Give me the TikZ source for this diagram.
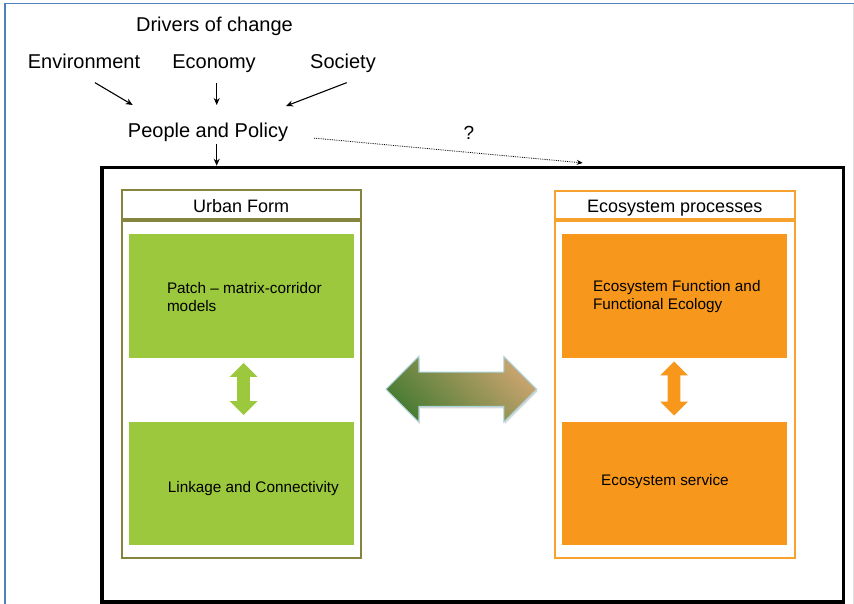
\documentclass[tikz,border=0pt]{standalone}
\usepackage{fontspec}
\setmainfont{Liberation Sans}
\usetikzlibrary{arrows.meta,shapes.arrows,shadows}

\definecolor{olivebox}{HTML}{858540}
\definecolor{greenbox}{HTML}{9BC83C}
\definecolor{orangeline}{HTML}{F7A12F}
\definecolor{orangebox}{HTML}{F7981D}
\definecolor{bigGreen}{HTML}{4A7C34}
\definecolor{bigMid}{HTML}{62893F}
\definecolor{bigTan}{HTML}{C9A46E}
\definecolor{arrowedge}{HTML}{A9D4DC}
\definecolor{pageblue}{HTML}{4F81BD}

\begin{document}
\begin{tikzpicture}[x=1pt,y=-1pt,
    arr/.style={-{Stealth[length=7pt,width=6pt]},line width=1.1pt},
    lbl/.style={inner sep=2pt,font=\fontsize{20}{24}\selectfont},
    head/.style={draw,line width=2pt,fill=white,inner sep=0pt,text height=14.6pt,text depth=0pt,
      font=\fontsize{18}{21}\selectfont},
    body/.style={draw,line width=2pt,fill=white,inner sep=0pt},
    greenrect/.style={fill=greenbox,minimum width=225pt,inner sep=0pt},
    orangerect/.style={fill=orangebox,minimum width=225pt,inner sep=0pt},
    boxtext/.style={inner sep=0pt,align=left,font=\fontsize{15.3}{18}\selectfont},
    updown/.style={double arrow,double arrow head extend=7.5pt,inner xsep=0pt,inner ysep=6.2pt,
      rotate=90}]

\useasboundingbox (0,0) rectangle (854,604);
\fill[white] (0,0) rectangle (854,604);
\draw[pageblue,line width=1.5pt] (5,604) -- (5,3.7) -- (854,3.7);
\draw[black!12,line width=1pt] (853,3.7) -- (853,604);

% drivers
\node[lbl,anchor=base] (drivers) at (214.5,31.7) {Drivers of change};
\node[lbl,anchor=base] (env) at (84,68.3) {Environment};
\node[lbl,anchor=base] (econ) at (214,68.3) {Economy};
\node[lbl,anchor=base] (soc) at (343,68.3) {Society};
\node[lbl,anchor=base] (people) at (208,137.3) {People and Policy};
\node[lbl,anchor=base,font=\fontsize{19}{22}\selectfont] (q) at (469,140) {?};

\coordinate (envTip) at (132.7,105);
\coordinate (econTip) at (216.7,105);
\coordinate (socTip) at (286,106);
\coordinate (qTip) at (582.7,162.9);

% frame
\node[draw,line width=3.5pt,minimum width=741.5pt,minimum height=434.5pt,inner sep=0pt]
  (frame) at (472.75,384.75) {};

\draw[arr] ([shift={(11,12)}]env.south) -- (envTip);
\draw[arr] ([shift={(2.7,8)}]econ.south) -- (econTip);
\draw[arr] ([shift={(3.7,8)}]soc.south) -- (socTip);
\draw[arr] ([xshift=8.7pt]people.south) -- ([xshift=8.7pt]people.south |- frame.north);
\draw[-{Stealth[length=6pt,width=5pt]},densely dotted,line width=0.8pt]
  ([shift={(24,6)}]people.east) -- (qTip);

% urban form
\node[body,draw=olivebox,minimum width=238.5pt,minimum height=336.5pt] (urbanBody) at (241.25,389.75) {};
\node[head,draw=olivebox,minimum width=238.5pt,minimum height=29pt] (urban) at (241.25,205) {Urban Form};
\node[greenrect,minimum height=123.5pt] (patch) at (241.5,295.75) {};
\node[greenrect,minimum height=123pt] (link) at (241.5,483.5) {};
\node[boxtext,anchor=west] (patchTxt) at ([xshift=38pt,yshift=-1pt]patch.west) {Patch -- matrix-corridor\\models};
\node[boxtext,anchor=base west] (linkTxt) at (167.7,492) {Linkage and Connectivity};
\node[updown,fill=greenbox,minimum height=52pt] (greenArrow) at (243.5,389) {};

% ecosystem processes
\node[body,draw=orangeline,minimum width=239.5pt,minimum height=336.5pt] (ecoBody) at (674.75,389.75) {};
\node[head,draw=orangeline,minimum width=239.5pt,minimum height=28.5pt] (eco) at (674.75,205.25) {Ecosystem processes};
\node[orangerect,minimum height=123.5pt] (func) at (674.5,295.75) {};
\node[orangerect,minimum height=123pt] (serv) at (674.5,483.5) {};
\node[boxtext,anchor=west] (funcTxt) at ([xshift=31pt,yshift=-1pt]func.west) {Ecosystem Function and\\Functional Ecology};
\node[boxtext,anchor=base west] (servTxt) at (601,485) {Ecosystem service};
\node[updown,fill=orangebox,minimum height=54pt] (orangeArrow) at (674,388.5) {};

% link between both sides
\node[double arrow,double arrow head extend=15.8pt,minimum height=150.7pt,inner xsep=0pt,inner ysep=16.6pt,
  draw=arrowedge,line width=1pt,
  top color=bigGreen,middle color=bigMid,bottom color=bigTan,shading angle=135,
  drop shadow={shadow xshift=1pt,shadow yshift=-2pt,opacity=0.15,fill=black}]
  (bigArrow) at (461.3,389.2) {};

\end{tikzpicture}
\end{document}
